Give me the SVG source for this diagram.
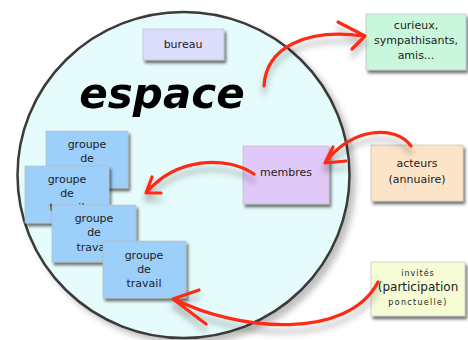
<svg xmlns="http://www.w3.org/2000/svg" width="468" height="340" viewBox="0 0 468 340">
<defs>
<filter id="sh" x="-20%" y="-20%" width="150%" height="150%">
<feDropShadow dx="2" dy="3" stdDeviation="1.5" flood-color="#000" flood-opacity="0.55"/>
</filter>
<filter id="csh" x="-10%" y="-10%" width="125%" height="125%">
<feGaussianBlur in="SourceAlpha" stdDeviation="3"/>
<feOffset dx="5" dy="5" result="b"/>
<feComponentTransfer in="b" result="c"><feFuncA type="linear" slope="0.25"/></feComponentTransfer>
<feMerge><feMergeNode in="c"/><feMergeNode in="SourceGraphic"/></feMerge>
</filter>
<filter id="ash" x="-20%" y="-20%" width="150%" height="160%">
<feDropShadow dx="0" dy="7" stdDeviation="3" flood-color="#000" flood-opacity="0.3"/>
</filter>
<style>
.box{stroke:#b8b8b8;stroke-width:0.6;filter:url(#sh)}
.t{font-family:"DejaVu Sans",Verdana,sans-serif;font-size:11px;fill:#222;text-anchor:middle}
.arr{fill:none;stroke:#ff2a14;stroke-width:3.2;stroke-linecap:round;stroke-linejoin:round}
.g{fill:#9ccffa}
</style>
</defs>
<rect width="468" height="340" fill="#fff"/>
<g id="espace" filter="url(#csh)">
<ellipse cx="183.5" cy="175" rx="166" ry="163" fill="#e6fcfc" stroke="#3a3a3a" stroke-width="2.5"/>
<text x="162" y="108" text-anchor="middle" font-family="'DejaVu Sans',Verdana,sans-serif" font-weight="bold" font-style="italic" font-size="42" fill="#000">espace</text>
</g>
<g id="bureau">
<rect class="box" x="143" y="29" width="81" height="31" fill="#dcdcfc"/>
<text class="t" x="183" y="48">bureau</text>
</g>
<g id="curieux">
<rect class="box" x="366" y="14" width="100" height="56" fill="#c8f7dc"/>
<text class="t" x="416" y="29">curieux,</text>
<text class="t" x="416" y="44">sympathisants,</text>
<text class="t" x="416" y="59">amis...</text>
</g>
<g id="acteurs">
<rect class="box" x="371" y="145" width="92" height="56" fill="#fce4c8"/>
<text class="t" x="417" y="167">acteurs</text>
<text class="t" x="417" y="183">(annuaire)</text>
</g>
<g id="invites">
<rect class="box" x="371" y="262" width="94" height="54" fill="#f6fcd6"/>
<text class="t" x="418" y="276" style="font-size:8px;letter-spacing:1px">invités</text>
<text class="t" x="418" y="291" style="font-size:12px">(participation</text>
<text class="t" x="418" y="305" style="font-size:8px;letter-spacing:1.3px">ponctuelle)</text>
</g>
<g id="membres">
<rect class="box" x="243" y="146" width="86" height="58" fill="#e0c8f8"/>
<text class="t" x="286" y="176">membres</text>
</g>
<g id="groupe1">
<rect class="box g" x="46" y="131" width="82" height="57"/>
<text class="t" x="87" y="148">groupe</text>
<text class="t" x="87" y="162">de</text>
</g>
<g id="groupe2">
<rect class="box g" x="25" y="166" width="84" height="57"/>
<text class="t" x="67" y="183">groupe</text>
<text class="t" x="67" y="197">de</text>
<text class="t" x="67" y="211">travail</text>
</g>
<g id="groupe3">
<rect class="box g" x="52" y="205" width="84" height="57"/>
<text class="t" x="94" y="222">groupe</text>
<text class="t" x="94" y="236">de</text>
<text class="t" x="94" y="251">travail</text>
</g>
<g id="groupe4">
<rect class="box g" x="103" y="241" width="83" height="57"/>
<text class="t" x="144" y="259">groupe</text>
<text class="t" x="144" y="273">de</text>
<text class="t" x="144" y="287">travail</text>
</g>
<g id="connectors" filter="url(#ash)">
<path class="arr" d="M264,86 C266,48 305,28 364,36"/>
<path class="arr" d="M338,22 L365,36 L352,49"/>
<path class="arr" d="M411,146 C396,124 350,128 326,162"/>
<path class="arr" d="M333,147 L325,163 L346,161"/>
<path class="arr" d="M254,174 C226,155 176,158 147,192"/>
<path class="arr" d="M152,177 L146,193 L161,193"/>
<path class="arr" d="M378,282 C348,340 240,332 174,299"/>
<path class="arr" d="M199,290 L173,299 L206,324"/>
</g>
</svg>
